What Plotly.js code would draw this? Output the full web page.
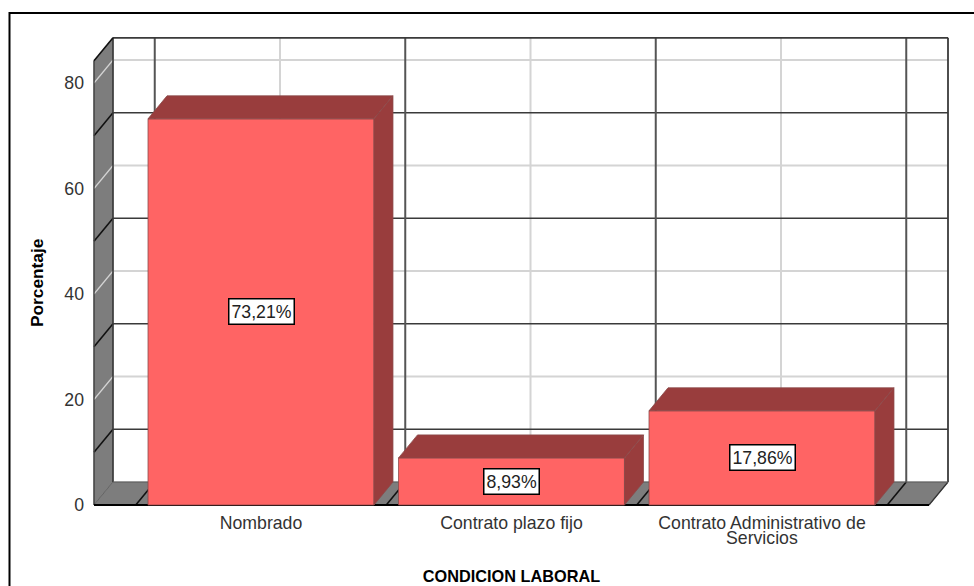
<!DOCTYPE html>
<html><head><meta charset="utf-8">
<script src="https://cdn.plot.ly/plotly-3.0.1.min.js"></script>
<style>html,body{margin:0;padding:0;background:#fff}</style>
</head><body><div id="chart" style="width:974px;height:586px"></div>
<script>
// ---- data ----
const categories = ["Nombrado", "Contrato plazo fijo", "Contrato Administrativo de"];
const categoryExtraLine = ["", "", "Servicios"];
const percentages = [73.21, 8.93, 17.86];
const barLabels = ["73,21%", "8,93%", "17,86%"];
const yTicks = [0, 20, 40, 60, 80];
const yMinorTicks = [10, 30, 50, 70];
const xPositions = [0, 1, 2];
const xBoundaries = [-0.5, 0.5, 1.5, 2.5];

// ---- scale of the picture ----
const W = 974, H = 586;
const plotL = 70, plotR = 953, plotT = 30, plotB = 510;
const zeroPx = 505, catPx = 511.5, pxPerCat = 250.5, pxPerUnit = 5.275;
const xr = [(plotL - (catPx - pxPerCat)) / pxPerCat, (plotR - (catPx - pxPerCat)) / pxPerCat];
const yr = [(zeroPx - plotB) / pxPerUnit, (zeroPx - plotT) / pxPerUnit];
const dx = 19 / pxPerCat, dy = 23 / pxPerUnit;      // depth of the fake 3D box
const wallL = -167 / pxPerCat, wallR = 668 / pxPerCat + 0, yTop = 84.2;
const halfBar = 0.451;

const C = {front:'#ff6464', dark:'#993d3d', edge:'#8a4a4a', wall:'#7d7d7d', light:'#d4d4d4', grid:'#3a3a3a', vert:'#555555'};
const shapes = [];
const seg = (x0,y0,x1,y1,color,width) => shapes.push({type:'line',layer:'below',xref:'x',yref:'y',x0,y0,x1,y1,line:{color,width}});
const poly = (pts,fill) => shapes.push({type:'path',layer:'below',xref:'x',yref:'y',
  path:'M'+pts.map(p=>p[0]+','+p[1]).join(' L')+' Z',fillcolor:fill,line:{color:'#555',width:0.6}});

// side wall and floor
poly([[wallL,0],[wallL+dx,dy],[wallL+dx,yTop+dy],[wallL,yTop]],C.wall);
poly([[wallL,0],[wallL+dx,dy],[wallR+dx,dy],[wallR,0]],C.wall);
// back wall grid
yTicks.concat([]).forEach(v=>{ if(v>0){
  seg(wallL+dx,v+dy,wallR+dx,v+dy,C.light,2);
  seg(wallL,v,wallL+dx,v+dy,C.light,1.2);
}});
xPositions.forEach(p=>{
  seg(p+dx,dy,p+dx,yTop+dy,C.light,2);
  seg(p,0,p+dx,dy,C.light,1.2);
});
yMinorTicks.forEach(v=>{
  seg(wallL+dx,v+dy,wallR+dx,v+dy,C.grid,1.6);
  seg(wallL,v,wallL+dx,v+dy,'#111',1.6);
});
xBoundaries.forEach(p=>{
  seg(p+dx,dy,p+dx,yTop+dy,C.vert,2);
  seg(p,0,p+dx,dy,'#111',1.6);
});
// box edges
seg(wallL+dx,yTop+dy,wallR+dx,yTop+dy,C.grid,1.8);
seg(wallR+dx,dy,wallR+dx,yTop+dy,C.grid,1.8);
seg(wallL+dx,dy,wallL+dx,yTop+dy,C.grid,1.6);
seg(wallL,0,wallL,yTop,'#444',1.4);
seg(wallL,yTop,wallL+dx,yTop+dy,'#111',1.6);
seg(wallR,0,wallR+dx,dy,'#333',1.2);
seg(wallL+dx,dy,wallR+dx,dy,'#666',1);
seg(wallL,0,wallR,0,'#000',2);

// outer frame of the picture
const px = v => (v - plotL) / (plotR - plotL);
const py = v => (plotB - v) / (plotB - plotT);
shapes.push({type:'path',layer:'below',xref:'paper',yref:'paper',
  path:`M${px(9.5)},${py(H+5)} L${px(9.5)},${py(13)} L${px(W+5)},${py(13)}`,line:{color:'#000',width:2}});

const traces = [{
  type:'bar', x:xPositions, y:percentages, width:halfBar*2,
  marker:{color:C.front,line:{color:C.edge,width:0.8}}, hoverinfo:'skip', showlegend:false
}];
percentages.forEach((v,i)=>{
  const a=xPositions[i]-halfBar,b=xPositions[i]+halfBar;
  traces.push({type:'scatter',mode:'lines',fill:'toself',fillcolor:C.dark,line:{color:C.edge,width:0.8},
    x:[a,a+dx,b+dx,b,a],y:[v,v+dy,v+dy,v,v],hoverinfo:'skip',showlegend:false,cliponaxis:false});
  traces.push({type:'scatter',mode:'lines',fill:'toself',fillcolor:C.dark,line:{color:C.edge,width:0.8},
    x:[b,b+dx,b+dx,b,b],y:[v,v+dy,dy,0,v],hoverinfo:'skip',showlegend:false,cliponaxis:false});
});

const font = {family:'"Liberation Sans",Arial,sans-serif',color:'#333'};
const annotations = percentages.map((v,i)=>({
  x:xPositions[i],y:v/2,xref:'x',yref:'y',text:barLabels[i],showarrow:false,
  font:{...font,size:17.7,color:'#222'},bgcolor:'#fff',bordercolor:'#000',borderwidth:1.5,borderpad:2
}));
categoryExtraLine.forEach((t,i)=>{ if(t) annotations.push({
  x:xPositions[i],xref:'x',y:py(538),yref:'paper',yanchor:'middle',xanchor:'center',text:t,showarrow:false,font:{...font,size:17.7}
});});
annotations.push({x:px(37),y:py(283),xref:'paper',yref:'paper',xanchor:'center',yanchor:'middle',text:'<b>Porcentaje</b>',textangle:-90,
  showarrow:false,font:{...font,size:17.3,color:'#000'}});

Plotly.newPlot('chart',traces,{
  width:W,height:H,paper_bgcolor:'#fff',plot_bgcolor:'#fff',showlegend:false,bargap:0,
  margin:{l:plotL,r:W-plotR,t:plotT,b:H-plotB,pad:0},
  font,
  xaxis:{type:'linear',range:xr,tickmode:'array',tickvals:xPositions,ticktext:categories,tickangle:0,
    showgrid:false,zeroline:false,showline:false,ticks:'',tickfont:{...font,size:17.7},
    title:{text:'<b>CONDICION LABORAL</b>',font:{...font,size:16.3,color:'#000'},standoff:38}},
  yaxis:{range:yr,tickmode:'array',tickvals:yTicks,ticktext:yTicks.map(String),showgrid:false,zeroline:false,
    showline:false,ticks:'',tickfont:{...font,size:17.7},anchor:'free',position:px(94),ticklabelstandoff:10},
  shapes,annotations
},{displayModeBar:false,staticPlot:true});
</script></body></html>
